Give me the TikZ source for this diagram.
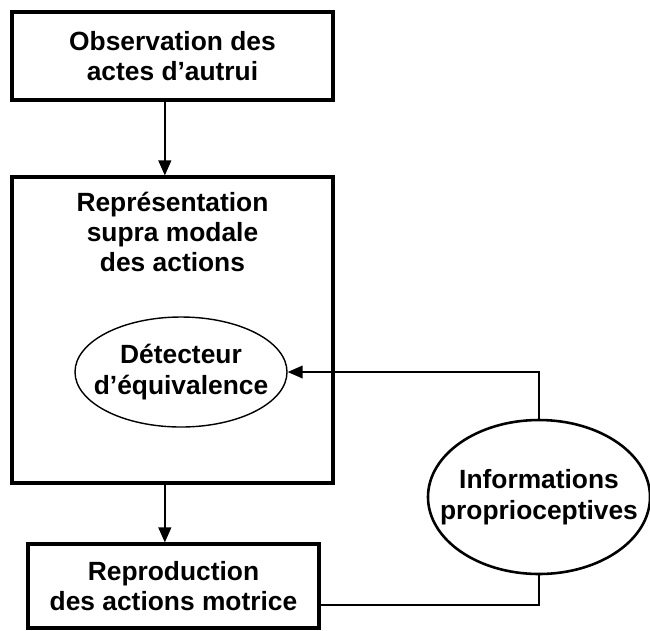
\documentclass[tikz,border=0pt]{standalone}
\usepackage{fontspec}
\setmainfont{Liberation Sans}
\usetikzlibrary{shapes.geometric, arrows.meta, positioning}

\begin{document}
\begin{tikzpicture}[
        x=0.03cm, y=-0.03cm,
        font=\fontsize{22.5}{26}\selectfont\bfseries,
        bbox/.style={
            rectangle,
            draw=black,
            line width=2.6pt,
            align=center,
            inner sep=0pt
        },
        ebox/.style={
            ellipse,
            draw=black,
            inner sep=0pt
        },
        lbl/.style={
            align=center,
            inner sep=0pt
        },
        arrow/.style={
            line width=1.6pt,
            -{Triangle[length=0.45cm, width=0.38cm]}
        },
        link/.style={
            line width=1.6pt
        }
        ]

        \useasboundingbox (0,0) rectangle (650,630);

        \node (obs) [bbox, minimum width=9.63cm, minimum height=2.64cm] at (172.5,56) {Observation des\\actes d’autrui};
        \node (rep) [bbox, minimum width=9.63cm, minimum height=9.18cm,
            label={[lbl, anchor=north, yshift=-0.48cm]north:Représentation\\supra modale\\des actions}] at (172.5,330) {};
        \node (det) [ebox, line width=1.2pt, minimum width=6.36cm, minimum height=3.3cm,
            label={[lbl]center:Détecteur\\d’équivalence}] at (181,372) {};
        \node (rpr) [bbox, minimum width=8.73cm, minimum height=2.52cm] at (173.5,586) {Reproduction\\des actions motrice};
        \node (info) [ebox, line width=2.2pt, minimum width=6.66cm, minimum height=4.62cm,
            label={[lbl]center:Informations\\proprioceptives}] at (539,497) {};

        \draw [arrow] ([xshift=-0.23cm]obs.south) -- ([xshift=-0.23cm]rep.north);
        \draw [arrow] ([xshift=-0.23cm]rep.south) -- ([xshift=-0.23cm]rep.south |- rpr.north);
        \draw [arrow] (info.north) |- (det.east);
        \draw [link] (info.south) |- ([yshift=-0.57cm]rpr.east);

    \end{tikzpicture}
\end{document}
